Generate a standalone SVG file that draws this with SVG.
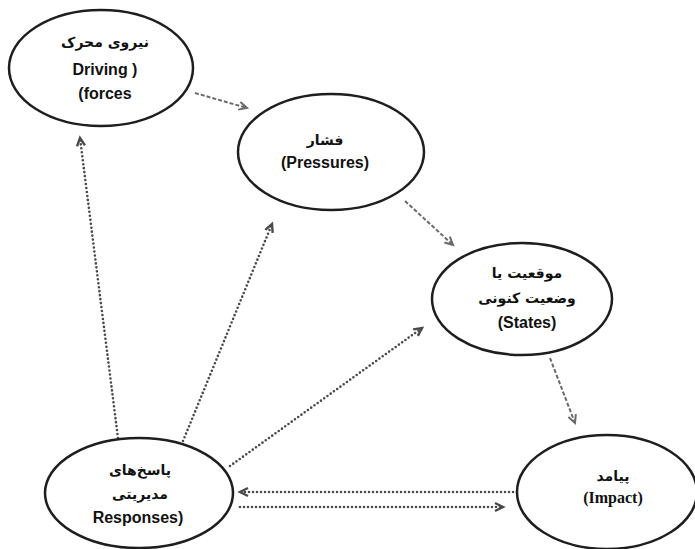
<svg xmlns="http://www.w3.org/2000/svg" width="695" height="549" viewBox="0 0 695 549">
<style>
.node ellipse{fill:#fff;stroke:#1e1e1e;stroke-width:2.5}
.fa{font-family:"DejaVu Sans",sans-serif;font-weight:bold;font-size:14px;fill:#111;text-anchor:middle}
.en{font-family:"Liberation Sans",Arial,sans-serif;font-weight:bold;font-size:16px;fill:#111;text-anchor:middle}
.ser{font-family:"Liberation Serif","Times New Roman",serif;font-weight:bold;font-size:16px;fill:#111;text-anchor:middle}
.dash{fill:none;stroke:#6a6a6a;stroke-width:2;stroke-dasharray:4 2}
.dot{fill:none;stroke:#4a4a4a;stroke-width:2.6;stroke-dasharray:0 4;stroke-linecap:round}
</style>
<defs>
<marker id="ah-dash" markerUnits="userSpaceOnUse" markerWidth="12" markerHeight="12" refX="9" refY="5" orient="auto" viewBox="0 0 12 10">
<path d="M1,1 L9,5 L1,9" fill="none" stroke="#6a6a6a" stroke-width="2"/>
</marker>
<marker id="ah-dot" markerUnits="userSpaceOnUse" markerWidth="12" markerHeight="12" refX="9" refY="5" orient="auto" viewBox="0 0 12 10">
<path d="M1,1 L9,5 L1,9" fill="none" stroke="#4a4a4a" stroke-width="2.4"/>
</marker>
</defs>
<g id="connectors">
<path class="dash" d="M195,93 L247,108" marker-end="url(#ah-dash)"/>
<path class="dash" d="M405,201 L453,245" marker-end="url(#ah-dash)"/>
<path class="dash" d="M550,358 L575,423" marker-end="url(#ah-dash)"/>
<path class="dot" d="M118,438 L80,138" marker-end="url(#ah-dot)"/>
<path class="dot" d="M183,441 L272,224" marker-end="url(#ah-dot)"/>
<path class="dot" d="M230,466 L422,328" marker-end="url(#ah-dot)"/>
<path class="dot" d="M517,492 L240,492" marker-end="url(#ah-dot)"/>
<path class="dot" d="M240,507 L503,507" marker-end="url(#ah-dot)"/>
</g>
<g id="driving" class="node">
<ellipse cx="101" cy="68" rx="92" ry="58"/>
<text class="fa" x="105" y="47">نیروی محرک</text>
<text class="en" x="105" y="75">Driving )</text>
<text class="en" x="105" y="99">(forces</text>
</g>
<g id="pressures" class="node">
<ellipse cx="331" cy="152" rx="93" ry="58"/>
<text class="fa" x="325" y="145">فشار</text>
<text class="en" x="325" y="168">(Pressures)</text>
</g>
<g id="states" class="node">
<ellipse cx="522" cy="299" rx="90" ry="56"/>
<text class="fa" x="527" y="278">موقعیت یا</text>
<text class="fa" x="527" y="303">وضعیت کنونی</text>
<text class="en" x="527" y="328">(States)</text>
</g>
<g id="responses" class="node">
<ellipse cx="139" cy="493" rx="94" ry="55"/>
<text class="fa" x="140" y="475">پاسخ‌های</text>
<text class="fa" x="140" y="499">مدیریتی</text>
<text class="en" x="138" y="523">Responses)</text>
</g>
<g id="impact" class="node">
<ellipse cx="607" cy="492" rx="90" ry="57"/>
<text class="fa" x="613" y="481">پیامد</text>
<text class="ser" x="613" y="503">(Impact)</text>
</g>
</svg>
